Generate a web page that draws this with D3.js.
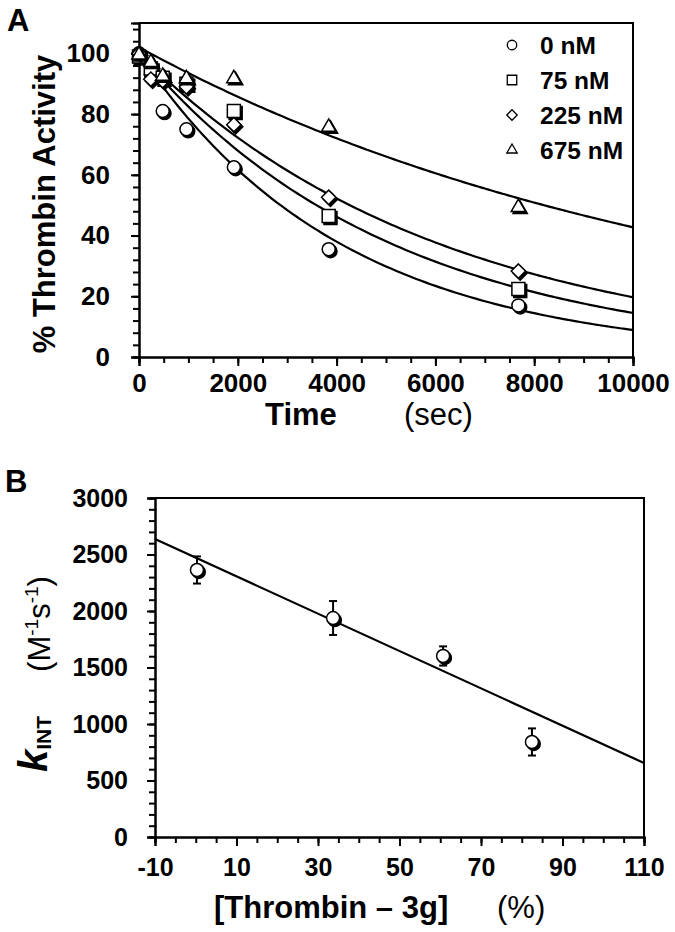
<!DOCTYPE html>
<html>
<head>
<meta charset="utf-8">
<script src="https://cdn.jsdelivr.net/npm/d3@7"></script>
<style>
  html, body { margin: 0; padding: 0; background: #fff; }
  svg { display: block; font-family: "Liberation Sans", Arial, sans-serif; }
</style>
</head>
<body>
<svg id="chart" width="675" height="932"></svg>
<script>
// ---------- Panel A data ----------
const times = [0, 240, 480, 960, 1920, 3840, 7680];
const act0 = [100, 93, 81, 75, 62.5, 35.5, 17];
const act75 = [99, 95, 92, 90, 81, 46.4, 22.4];
const act225 = [100, 91.5, 91, 89, 76.5, 52.6, 28.3];
const act675 = [99.5, 97, 92.5, 91.7, 91.7, 75.7, 49.3];
const seriesNames = ["0 nM", "75 nM", "225 nM", "675 nM"];
const seriesShapes = ["circle", "square", "diamond", "triangle"];
const fitAmp = [100, 100, 100, 102];
const fitRate = [2.42e-4, 1.93e-4, 1.625e-4, 8.7e-5];
const timeTicks = [0, 2000, 4000, 6000, 8000, 10000];
const actTicks = [0, 20, 40, 60, 80, 100];

// ---------- Panel B data ----------
const frac3g = [0.3, 33.7, 60.7, 82.5];
const kint = [2363, 1938, 1602, 841];
const kintErr = [120, 150, 85, 120];
const fitLineX = [-10, 110];
const fitLineY = [2637, 655];
const fracTicks = [-10, 10, 30, 50, 70, 90, 110];
const kTicks = [0, 500, 1000, 1500, 2000, 2500, 3000];

const svg = d3.select("#chart");
const plainFmt = d => String(d);

function shapePath(shape, s) {
  const h = s / 2;
  if (shape === "circle") return d3.symbol(d3.symbolCircle, Math.PI * h * h)();
  if (shape === "square") return d3.symbol(d3.symbolSquare, s * s)();
  if (shape === "diamond") return `M0,${-h * 1.1}L${h * 1.1},0L0,${h * 1.1}L${-h * 1.1},0Z`;
  if (shape === "triangle") {
    const side = s * 1.1;
    const ht = side * Math.sqrt(3) / 2;
    return `M0,${-ht * 2 / 3}L${side / 2},${ht / 3}L${-side / 2},${ht / 3}Z`;
  }
}

function drawMarker(g, shape, x, y, s, shadow) {
  const p = shapePath(shape, s);
  if (shadow) {
    g.append("path").attr("d", p).attr("transform", `translate(${x + 1.8},${y + 2})`)
      .attr("fill", "#000").attr("stroke", "#000").attr("stroke-width", 1.5);
  }
  g.append("path").attr("d", p).attr("transform", `translate(${x},${y})`)
    .attr("fill", "#fff").attr("stroke", "#000").attr("stroke-width", shadow ? 1.5 : 1.3);
}

function styleAxis(g) {
  g.select(".domain").attr("stroke", "#000").attr("stroke-width", 2);
  g.selectAll(".tick line").attr("stroke", "#000").attr("stroke-width", 2);
}
function styleLabels(g, size) {
  g.selectAll("text").attr("font-size", size).attr("font-weight", "bold").attr("fill", "#000")
    .attr("font-family", "'Liberation Sans', Arial, sans-serif");
}

// ================= Panel A =================
const A = { left: 139, right: 633, top: 23, bottom: 357 };
const xA = d3.scaleLinear().domain([0, 10000]).range([A.left, A.right]);
const yA = d3.scaleLinear().domain([0, 110]).range([A.bottom, A.top]);
const gA = svg.append("g");

gA.append("path")
  .attr("d", `M${A.left},${A.top}H${A.right}V${A.bottom}`)
  .attr("fill", "none").attr("stroke", "#000").attr("stroke-width", 2);

const xAminor = gA.append("g").attr("transform", `translate(0,${A.bottom})`)
  .call(d3.axisBottom(xA).tickValues(d3.range(0, 10001, 500)).tickSize(6).tickFormat(""));
styleAxis(xAminor);
const yAminor = gA.append("g").attr("transform", `translate(${A.left},0)`)
  .call(d3.axisLeft(yA).tickValues(d3.range(0, 109, 4)).tickSize(6).tickFormat(""));
styleAxis(yAminor);
const xAaxis = gA.append("g").attr("transform", `translate(0,${A.bottom})`)
  .call(d3.axisBottom(xA).tickValues(timeTicks).tickSize(9).tickPadding(8).tickFormat(plainFmt));
styleAxis(xAaxis);
styleLabels(xAaxis, 26);
const yAaxis = gA.append("g").attr("transform", `translate(${A.left},0)`)
  .call(d3.axisLeft(yA).tickValues(actTicks).tickSize(8).tickPadding(21).tickFormat(plainFmt));
styleAxis(yAaxis);
styleLabels(yAaxis, 26);

// fit curves
const seriesA = [act0, act75, act225, act675];
const line = d3.line().x(d => xA(d[0])).y(d => yA(d[1])).curve(d3.curveBasis);
seriesA.forEach((vals, i) => {
  const pts = d3.range(0, 10001, 100).map(t => [t, fitAmp[i] * Math.exp(-fitRate[i] * t)]);
  gA.append("path").attr("d", line(pts)).attr("fill", "none")
    .attr("stroke", "#000").attr("stroke-width", 2.2);
});
seriesA.forEach((vals, i) => {
  vals.forEach((v, j) => drawMarker(gA, seriesShapes[i], xA(times[j]), yA(v), 13, true));
});

// legend
seriesNames.forEach((name, i) => {
  const y = 45 + i * 35;
  drawMarker(gA, seriesShapes[i], 512, y, 9.5, false);
  gA.append("text").attr("x", 540).attr("y", y).attr("dy", "0.36em")
    .attr("font-size", 24.5).attr("font-weight", "bold").text(name);
});

// labels
svg.append("text").attr("x", 7).attr("y", 31).attr("font-size", 31).attr("font-weight", "bold").text("A");
svg.append("text").attr("transform", "translate(55,204) rotate(-90)").attr("text-anchor", "middle")
  .attr("font-size", 31).attr("font-weight", "bold").text("% Thrombin Activity");
svg.append("text").attr("x", 265).attr("y", 425).attr("font-size", 31).attr("font-weight", "bold").text("Time");
svg.append("text").attr("x", 404).attr("y", 425).attr("font-size", 31).text("(sec)");

// ================= Panel B =================
const B = { left: 155, right: 644, top: 498, bottom: 837 };
const xB = d3.scaleLinear().domain([-10, 110]).range([B.left, B.right]);
const yB = d3.scaleLinear().domain([0, 3000]).range([B.bottom, B.top]);
const gB = svg.append("g");

gB.append("path")
  .attr("d", `M${B.left},${B.top}H${B.right}V${B.bottom}`)
  .attr("fill", "none").attr("stroke", "#000").attr("stroke-width", 2);

const xBminor = gB.append("g").attr("transform", `translate(0,${B.bottom})`)
  .call(d3.axisBottom(xB).tickValues(d3.range(-10, 111, 5)).tickSize(6).tickFormat(""));
styleAxis(xBminor);
const yBminor = gB.append("g").attr("transform", `translate(${B.left},0)`)
  .call(d3.axisLeft(yB).tickValues(d3.range(0, 3001, 100)).tickSize(6).tickFormat(""));
styleAxis(yBminor);
const xBaxis = gB.append("g").attr("transform", `translate(0,${B.bottom})`)
  .call(d3.axisBottom(xB).tickValues(fracTicks).tickSize(9).tickPadding(12).tickFormat(plainFmt));
styleAxis(xBaxis);
styleLabels(xBaxis, 25);
const yBaxis = gB.append("g").attr("transform", `translate(${B.left},0)`)
  .call(d3.axisLeft(yB).tickValues(kTicks).tickSize(8).tickPadding(19).tickFormat(plainFmt));
styleAxis(yBaxis);
styleLabels(yBaxis, 25);

// fit line
gB.append("line")
  .attr("x1", xB(fitLineX[0])).attr("y1", yB(fitLineY[0]))
  .attr("x2", xB(fitLineX[1])).attr("y2", yB(fitLineY[1]))
  .attr("stroke", "#000").attr("stroke-width", 2.2);

// error bars + markers
frac3g.forEach((f, i) => {
  const cx = xB(f);
  const y1 = yB(kint[i] + kintErr[i]), y2 = yB(kint[i] - kintErr[i]);
  gB.append("line").attr("x1", cx).attr("x2", cx).attr("y1", y1).attr("y2", y2)
    .attr("stroke", "#000").attr("stroke-width", 2);
  [y1, y2].forEach(yy => gB.append("line").attr("x1", cx - 4).attr("x2", cx + 4)
    .attr("y1", yy).attr("y2", yy).attr("stroke", "#000").attr("stroke-width", 2));
  drawMarker(gB, "circle", cx, yB(kint[i]), 13, true);
});

svg.append("text").attr("x", 5).attr("y", 492).attr("font-size", 31).attr("font-weight", "bold").text("B");

// y label parts
const yl1 = svg.append("text").attr("transform", "translate(50,624) rotate(-90)")
  .attr("text-anchor", "middle").attr("font-size", 31);
yl1.append("tspan").text("(M");
yl1.append("tspan").attr("font-size", 19).attr("dy", -12).text("-1");
yl1.append("tspan").attr("dy", 12).text("s");
yl1.append("tspan").attr("font-size", 19).attr("dy", -12).text("-1");
yl1.append("tspan").attr("dy", 12).text(")");

const yl2 = svg.append("text").attr("transform", "translate(47,744) rotate(-90)")
  .attr("text-anchor", "middle").attr("font-weight", "bold");
yl2.append("tspan").attr("font-size", 40).attr("font-style", "italic").text("k");
yl2.append("tspan").attr("font-size", 21).attr("dy", 4).text("INT");

svg.append("text").attr("x", 214).attr("y", 918).attr("font-size", 31).attr("font-weight", "bold")
  .text("[Thrombin – 3g]");
svg.append("text").attr("x", 497).attr("y", 918).attr("font-size", 31).text("(%)");
</script>
</body>
</html>
